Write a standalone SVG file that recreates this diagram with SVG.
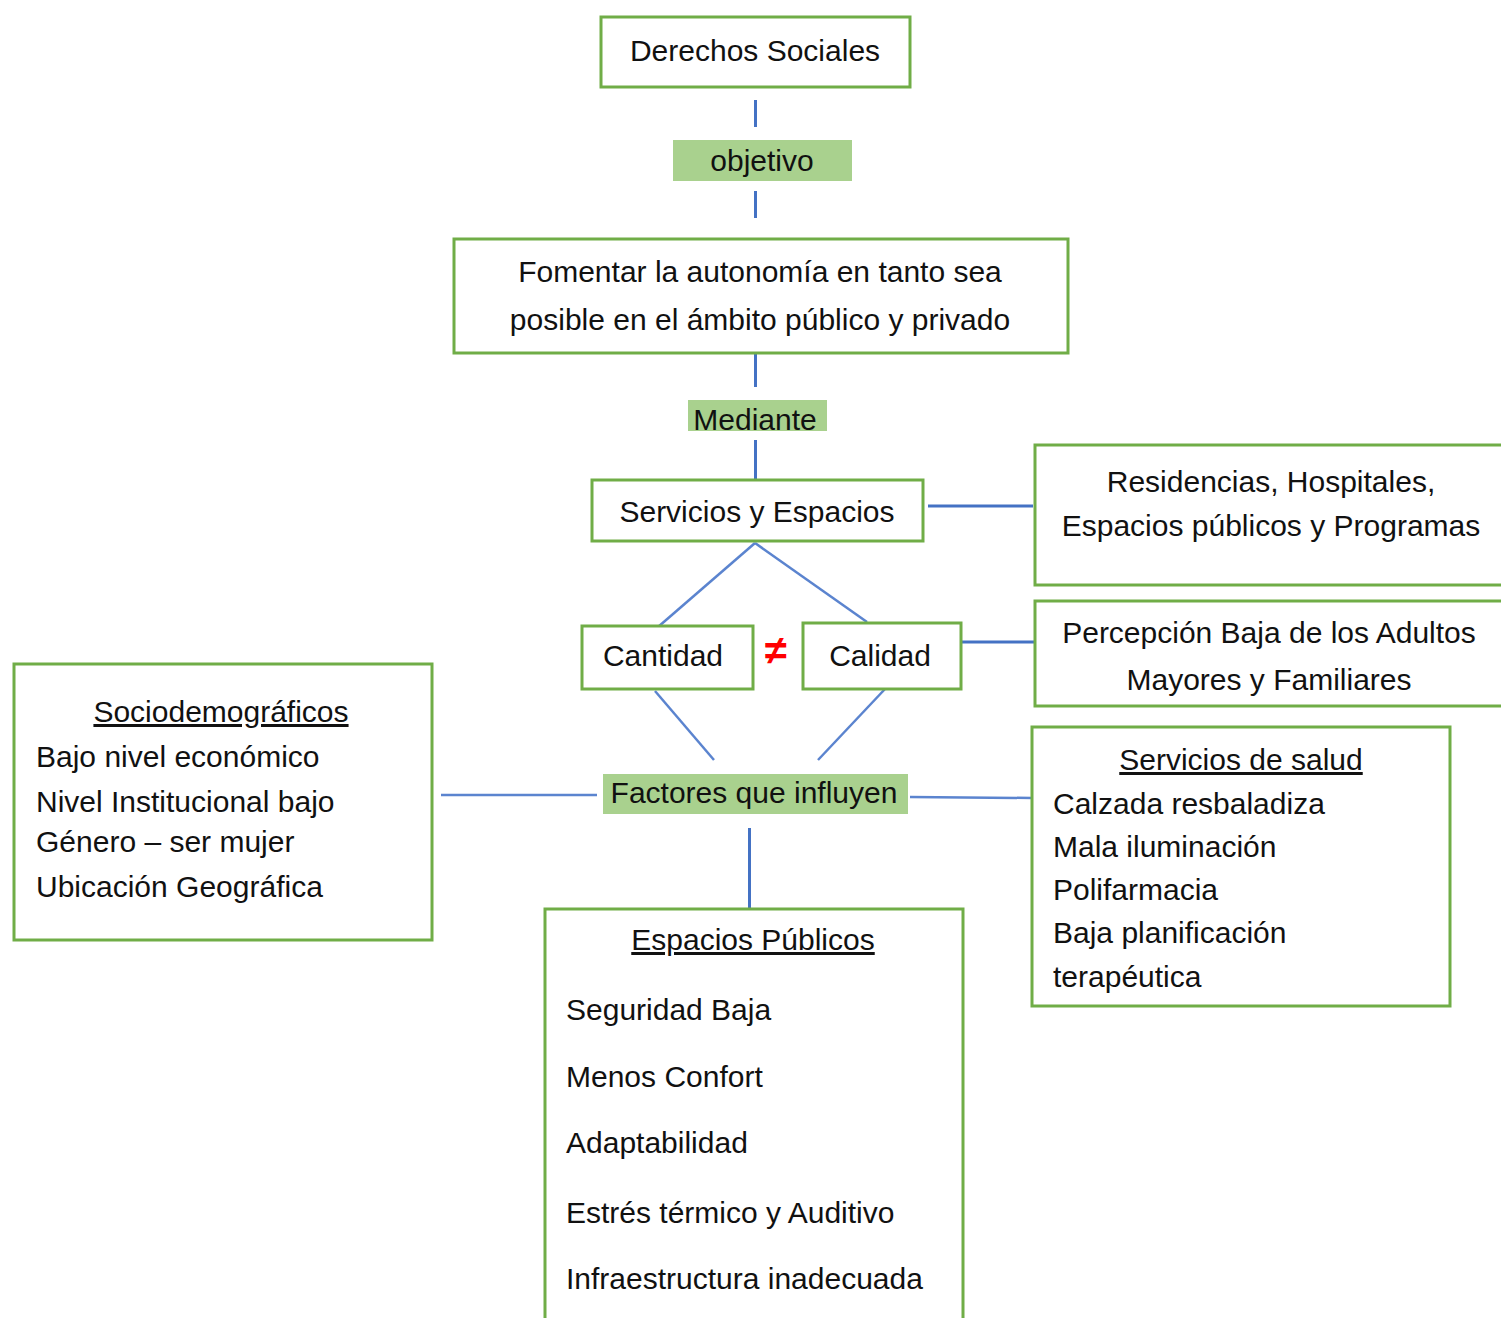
<svg xmlns="http://www.w3.org/2000/svg" width="1501" height="1318" viewBox="0 0 1501 1318">
<style>
.box{fill:#fff;stroke:#70AD47;stroke-width:3}
.lbl{fill:#A9D18E;stroke:none}
.t{font-family:"Liberation Sans",Arial,sans-serif;font-size:30px;fill:#111}
.c{text-anchor:middle}
.u{text-decoration:underline}
.ln{stroke:#4472C4;stroke-width:3;fill:none}
.dg{stroke:#5B84CF;stroke-width:2.5;fill:none}
</style>
<rect width="1501" height="1318" fill="#fff"/>
<g id="connectors">
<line class="ln" x1="755.5" y1="100" x2="755.5" y2="127"/>
<line class="ln" x1="755.5" y1="191" x2="755.5" y2="218"/>
<line class="ln" x1="755.5" y1="346" x2="755.5" y2="387"/>
<line class="ln" x1="755.5" y1="440" x2="755.5" y2="479"/>
<line class="ln" x1="928" y1="506" x2="1033" y2="506"/>
<line class="dg" x1="755" y1="543" x2="658" y2="627"/>
<line class="dg" x1="755" y1="543" x2="867" y2="622"/>
<line class="dg" x1="655" y1="691" x2="714" y2="760"/>
<line class="dg" x1="885" y1="689" x2="818" y2="760"/>
<line class="ln" x1="961" y1="642" x2="1036" y2="642"/>
<line class="dg" x1="441" y1="795" x2="597" y2="795"/>
<line class="dg" x1="910" y1="797" x2="1032" y2="798"/>
<line class="ln" x1="749.5" y1="828" x2="749.5" y2="910"/>
</g>
<g id="derechos">
<rect class="box" x="601" y="17" width="309" height="70"/>
<text class="t c" x="755" y="61">Derechos Sociales</text>
</g>
<g id="objetivo">
<rect class="lbl" x="673" y="140" width="179" height="41"/>
<text class="t c" x="762" y="171">objetivo</text>
</g>
<g id="fomentar">
<rect class="box" x="454" y="239" width="614" height="114"/>
<text class="t c" x="760" y="282">Fomentar la autonomía en tanto sea</text>
<text class="t c" x="760" y="330">posible en el ámbito público y privado</text>
</g>
<g id="mediante">
<rect class="lbl" x="688" y="400" width="139" height="31"/>
<text class="t c" x="755" y="430">Mediante</text>
</g>
<g id="servicios">
<rect class="box" x="592" y="480" width="331" height="61"/>
<text class="t c" x="757" y="522">Servicios y Espacios</text>
</g>
<g id="residencias">
<rect class="box" x="1035" y="445" width="480" height="140"/>
<text class="t c" x="1271" y="492">Residencias, Hospitales,</text>
<text class="t c" x="1271" y="536">Espacios públicos y Programas</text>
</g>
<g id="cantidad">
<rect class="box" x="582" y="626" width="171" height="63"/>
<text class="t c" x="663" y="666">Cantidad</text>
</g>
<g id="neq">
<text x="776" y="664" text-anchor="middle" font-family="'Liberation Sans',Arial,sans-serif" font-size="40" font-weight="bold" fill="#FF0000">≠</text>
</g>
<g id="calidad">
<rect class="box" x="803" y="623" width="158" height="66"/>
<text class="t c" x="880" y="666">Calidad</text>
</g>
<g id="percepcion">
<rect class="box" x="1035" y="601" width="480" height="105"/>
<text class="t c" x="1269" y="643">Percepción Baja de los Adultos</text>
<text class="t c" x="1269" y="690">Mayores y Familiares</text>
</g>
<g id="factores">
<rect class="lbl" x="603" y="774" width="305" height="40"/>
<text class="t c" x="754" y="803">Factores que influyen</text>
</g>
<g id="sociodemograficos">
<rect class="box" x="14" y="664" width="418" height="276"/>
<text class="t c u" x="221" y="722">Sociodemográficos</text>
<text class="t" x="36" y="767">Bajo nivel económico</text>
<text class="t" x="36" y="812">Nivel Institucional bajo</text>
<text class="t" x="36" y="852">Género – ser mujer</text>
<text class="t" x="36" y="897">Ubicación Geográfica</text>
</g>
<g id="salud">
<rect class="box" x="1032" y="727" width="418" height="279"/>
<text class="t c u" x="1241" y="770">Servicios de salud</text>
<text class="t" x="1053" y="814">Calzada resbaladiza</text>
<text class="t" x="1053" y="857">Mala iluminación</text>
<text class="t" x="1053" y="900">Polifarmacia</text>
<text class="t" x="1053" y="943">Baja planificación</text>
<text class="t" x="1053" y="987">terapéutica</text>
</g>
<g id="espacios">
<rect class="box" x="545" y="909" width="418" height="430"/>
<text class="t c u" x="753" y="950">Espacios Públicos</text>
<text class="t" x="566" y="1020">Seguridad Baja</text>
<text class="t" x="566" y="1087">Menos Confort</text>
<text class="t" x="566" y="1153">Adaptabilidad</text>
<text class="t" x="566" y="1223">Estrés térmico y Auditivo</text>
<text class="t" x="566" y="1289">Infraestructura inadecuada</text>
</g>
</svg>
